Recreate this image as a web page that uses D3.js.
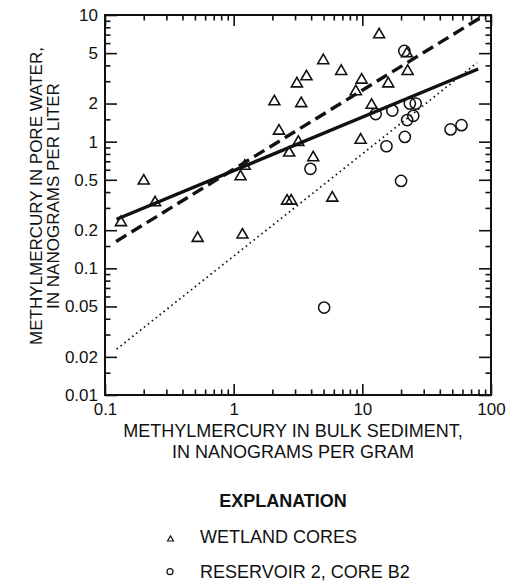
<!DOCTYPE html>
<html>
<head>
<meta charset="utf-8">
<script src="https://cdn.jsdelivr.net/npm/d3@7"></script>
<style>
  body { margin: 0; background: #fff; }
  text { font-family: "Liberation Sans", Arial, Helvetica, sans-serif; fill: #111; }
</style>
</head>
<body>
<svg id="chart" width="520" height="586"></svg>
<script>
// Methylmercury: bulk sediment (ng/g) vs pore water (ng/L)
const wetlandX = [0.133, 0.2, 0.245, 0.525, 1.13, 1.22, 1.17, 2.07, 2.25, 2.6, 2.8, 2.7, 3.18, 3.1, 3.68, 3.35, 4.15, 4.97, 5.84, 6.85, 8.9, 9.88, 9.7, 11.8, 13.5, 15.9, 22.5, 22.2];
const wetlandY = [0.237, 0.505, 0.34, 0.178, 0.545, 0.66, 0.189, 2.13, 1.25, 0.35, 0.35, 0.84, 1.02, 2.95, 3.36, 2.06, 0.77, 4.5, 0.37, 3.7, 2.56, 3.16, 1.06, 2.0, 7.2, 2.95, 3.7, 5.1];

const reservoirX = [12.7, 17.1, 23.4, 26.0, 24.9, 22.3, 21.4, 15.4, 48.5, 59.0, 21.2, 3.95, 20.0, 5.05];
const reservoirY = [1.65, 1.76, 2.0, 2.0, 1.6, 1.48, 1.09, 0.92, 1.25, 1.35, 5.2, 0.61, 0.49, 0.049];

// Fitted lines (end points)
const wetlandFitX = [0.123, 79.5];
const wetlandFitY = [0.244, 3.75];
const allFitX = [0.122, 81];
const allFitY = [0.163, 9.4];
const reservoirFitX = [0.123, 78];
const reservoirFitY = [0.023, 4.2];

// Axis ticks
const xMajorTicks = [0.1, 1, 10, 100];
const xTickLabels = ["0.1", "1", "10", "100"];
const xMinorTicks = [0.2,0.3,0.4,0.5,0.6,0.7,0.8,0.9, 2,3,4,5,6,7,8,9, 20,30,40,50,60,70,80,90];
const yMajorTicks = [0.01, 0.02, 0.05, 0.1, 0.2, 0.5, 1, 2, 5, 10];
const yTickLabels = ["0.01", "0.02", "0.05", "0.1", "0.2", "0.5", "1", "2", "5", "10"];
const yMinorTicks = [0.015,0.03,0.04,0.06,0.07,0.08,0.09, 0.15,0.3,0.4,0.6,0.7,0.8,0.9, 1.5,3,4,6,7,8,9];

const L = 105, R = 491, T = 15, B = 395;
const svg = d3.select("#chart");

const x = d3.scaleLog().domain([0.1, 100]).range([L, R]);
const y = d3.scaleLog().domain([0.01, 10]).range([B, T]);

function styleAxis(g) {
  g.select(".domain").remove();
  g.selectAll(".tick line").attr("stroke", "#111").attr("stroke-width", 1.6);
  g.selectAll(".tick text").attr("font-size", 17).attr("fill", "#111")
    .attr("font-family", '"Liberation Sans", Arial, sans-serif');
}

// bottom
svg.append("g").attr("transform", `translate(0,${B})`)
  .call(d3.axisBottom(x).tickValues(xMajorTicks).tickSizeInner(-11).tickSizeOuter(0).tickPadding(8)
    .tickFormat((d, i) => xTickLabels[i]))
  .call(styleAxis);
svg.append("g").attr("transform", `translate(0,${B})`)
  .call(d3.axisBottom(x).tickValues(xMinorTicks).tickSizeInner(-5.5).tickSizeOuter(0).tickFormat(""))
  .call(styleAxis);
// top
svg.append("g").attr("transform", `translate(0,${T})`)
  .call(d3.axisTop(x).tickValues(xMajorTicks).tickSizeInner(-11).tickSizeOuter(0).tickFormat(""))
  .call(styleAxis);
svg.append("g").attr("transform", `translate(0,${T})`)
  .call(d3.axisTop(x).tickValues(xMinorTicks).tickSizeInner(-5.5).tickSizeOuter(0).tickFormat(""))
  .call(styleAxis);
// left
svg.append("g").attr("transform", `translate(${L},0)`)
  .call(d3.axisLeft(y).tickValues(yMajorTicks).tickSizeInner(-12).tickSizeOuter(0).tickPadding(7)
    .tickFormat((d, i) => yTickLabels[i]))
  .call(styleAxis);
svg.append("g").attr("transform", `translate(${L},0)`)
  .call(d3.axisLeft(y).tickValues(yMinorTicks).tickSizeInner(-5.5).tickSizeOuter(0).tickFormat(""))
  .call(styleAxis);
// right
svg.append("g").attr("transform", `translate(${R},0)`)
  .call(d3.axisRight(y).tickValues(yMajorTicks).tickSizeInner(-12).tickSizeOuter(0).tickFormat(""))
  .call(styleAxis);
svg.append("g").attr("transform", `translate(${R},0)`)
  .call(d3.axisRight(y).tickValues(yMinorTicks).tickSizeInner(-5.5).tickSizeOuter(0).tickFormat(""))
  .call(styleAxis);

// frame
svg.append("rect").attr("x", L).attr("y", T).attr("width", R - L).attr("height", B - T)
  .attr("fill", "none").attr("stroke", "#111").attr("stroke-width", 2);

// fitted lines
const line = d3.line().x(d => x(d[0])).y(d => y(d[1]));
const pairs = (xs, ys) => xs.map((v, i) => [v, ys[i]]);
svg.append("path").datum(pairs(reservoirFitX, reservoirFitY)).attr("d", line)
  .attr("fill", "none").attr("stroke", "#111").attr("stroke-width", 1.7)
  .attr("stroke-dasharray", "1.6,3.4");
svg.append("path").datum(pairs(allFitX, allFitY)).attr("d", line)
  .attr("fill", "none").attr("stroke", "#111").attr("stroke-width", 3.4)
  .attr("stroke-dasharray", "12,6");
svg.append("path").datum(pairs(wetlandFitX, wetlandFitY)).attr("d", line)
  .attr("fill", "none").attr("stroke", "#111").attr("stroke-width", 3.4);

// symbols
const tri = (w, h) => `M${-w/2},${h/2} L0,${-h/2} L${w/2},${h/2} Z`;
svg.append("g").selectAll("path").data(pairs(wetlandX, wetlandY)).join("path")
  .attr("d", tri(11, 9.5))
  .attr("transform", d => `translate(${x(d[0])},${y(d[1])})`)
  .attr("fill", "none").attr("stroke", "#111").attr("stroke-width", 1.6).attr("stroke-linejoin", "miter");
svg.append("g").selectAll("circle").data(pairs(reservoirX, reservoirY)).join("circle")
  .attr("cx", d => x(d[0])).attr("cy", d => y(d[1])).attr("r", 5.6)
  .attr("fill", "none").attr("stroke", "#111").attr("stroke-width", 1.5);

// axis titles
const xt = svg.append("text").attr("text-anchor", "middle").attr("font-size", 18);
xt.append("tspan").attr("x", 293).attr("y", 437).text("METHYLMERCURY IN BULK SEDIMENT,");
xt.append("tspan").attr("x", 293).attr("y", 458).text("IN NANOGRAMS PER GRAM");

const yt = svg.append("text").attr("text-anchor", "middle").attr("font-size", 17)
  .attr("transform", "rotate(-90)");
yt.append("tspan").attr("x", -196).attr("y", 42).text("METHYLMERCURY IN PORE WATER,");
yt.append("tspan").attr("x", -196).attr("y", 59).text("IN NANOGRAMS PER LITER");

// legend
svg.append("text").attr("x", 283).attr("y", 507).attr("text-anchor", "middle")
  .attr("font-size", 18).attr("font-weight", "bold").text("EXPLANATION");
svg.append("path").attr("d", tri(6, 5)).attr("transform", "translate(170.5,538.5)")
  .attr("fill", "none").attr("stroke", "#111").attr("stroke-width", 1.2);
svg.append("text").attr("x", 200).attr("y", 543).attr("font-size", 18).text("WETLAND CORES");
svg.append("circle").attr("cx", 170).attr("cy", 571.7).attr("r", 3)
  .attr("fill", "none").attr("stroke", "#111").attr("stroke-width", 1.2);
svg.append("text").attr("x", 200).attr("y", 577.5).attr("font-size", 18).text("RESERVOIR 2, CORE B2");
</script>
</body>
</html>
